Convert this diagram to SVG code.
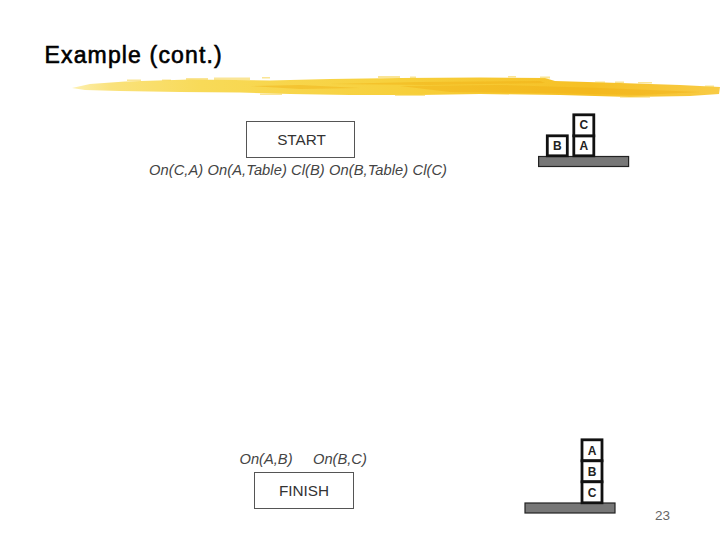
<svg xmlns="http://www.w3.org/2000/svg" width="720" height="540" viewBox="0 0 720 540">
<style>
.t{font-family:"Liberation Sans",Arial,sans-serif}
.box{fill:#fff;stroke:#555;stroke-width:1}
.lbl{font-size:15.300px;fill:#333;text-anchor:middle}
.cond{font-size:14.700px;fill:#444;font-style:italic}
.blk{fill:#fff;stroke:#111;stroke-width:2.800}
.bt{font-size:12px;font-weight:bold;fill:#222;text-anchor:middle}
.tbl{fill:#777;stroke:#222;stroke-width:1.200}
.fl{fill:#f7d551;opacity:.6}
.st{fill:#efb015;opacity:.45}
</style>
<defs>
<linearGradient id="br" x1="0" x2="1" y1="0" y2="0">
<stop offset="0" stop-color="#fdf0b0"/>
<stop offset=".06" stop-color="#fae27c"/>
<stop offset=".2" stop-color="#f8da58"/>
<stop offset=".5" stop-color="#f7d03c"/>
<stop offset=".8" stop-color="#f6c025"/>
<stop offset="1" stop-color="#f8cb45"/>
</linearGradient>
</defs>
<rect width="720" height="540" fill="#fff"/>
<g id="title"><text class="t" x="44.500" y="62.500" font-size="23" letter-spacing="1.150" fill="#000" stroke="#000" stroke-width=".6">Example (cont.)</text></g>
<g id="brush">
<path fill="url(#br)" d="M72 88 L90 84 L125 81.500 L190 79.500 L270 80.500 L330 79 L400 78 L480 77.500 L545 78 L555 81 L620 83 L680 85 L720 87 L719 94 L690 96 L630 97 L560 95 L480 94 L420 95 L350 95 L290 94 L240 92.500 L180 92 L120 91 L85 90 Z"/>
<path class="st" d="M400 86 L500 85 L600 88 L700 92 L640 95 L540 93 L450 92 Z"/>
<path class="st" d="M330 84 L420 82 L540 81 L545 83 L430 85 Z"/>
<path class="st" d="M250 86 L300 85 L360 88 L300 89 Z"/>
<g class="fl">
<rect x="127" y="79.500" width="14" height="1.500"/><rect x="162" y="79.500" width="9" height="1.500"/><rect x="186" y="78" width="22" height="2"/><rect x="214" y="77.500" width="36" height="2.500"/><rect x="262" y="77" width="8" height="1.500"/>
<rect x="378" y="76" width="22" height="2"/><rect x="410" y="76.500" width="6" height="1.500"/><rect x="508" y="76" width="8" height="1.500"/><rect x="540" y="76.500" width="10" height="2"/>
<rect x="595" y="81.500" width="10" height="1.500"/><rect x="615" y="81.500" width="9" height="1.500"/><rect x="638" y="82" width="14" height="1.500"/><rect x="705" y="85.500" width="9" height="1.500"/>
<rect x="260" y="93.500" width="22" height="1.500"/><rect x="395" y="94.500" width="30" height="1.500"/><rect x="620" y="96.500" width="30" height="1.200"/>
</g>
</g>
<g id="start"><rect class="box" x="246.500" y="121.500" width="108" height="36"/><text class="t lbl" x="301.500" y="144.500">START</text></g>
<g id="start-conditions"><text class="t cond" x="149" y="175" textLength="298">On(C,A) On(A,Table) Cl(B) On(B,Table) Cl(C)</text></g>
<g id="start-blocks">
<rect class="tbl" x="538.600" y="156.500" width="90" height="10"/>
<rect class="blk" x="547.300" y="135.800" width="20" height="20"/><text class="t bt" x="557.300" y="150">B</text>
<rect class="blk" x="573.800" y="135.800" width="20" height="20"/><text class="t bt" x="583.800" y="150">A</text>
<rect class="blk" x="573.800" y="114.800" width="20" height="21"/><text class="t bt" x="583.800" y="129">C</text>
</g>
<g id="finish-conditions"><text class="t cond" x="239.500" y="464">On(A,B)</text><text class="t cond" x="313" y="464">On(B,C)</text></g>
<g id="finish"><rect class="box" x="254.500" y="472.500" width="99" height="36"/><text class="t lbl" x="304" y="495.500">FINISH</text></g>
<g id="finish-blocks">
<rect class="tbl" x="525" y="503" width="90" height="10"/>
<rect class="blk" x="582" y="439.800" width="20" height="21"/><text class="t bt" x="592" y="454.500">A</text>
<rect class="blk" x="582" y="460.800" width="20" height="21"/><text class="t bt" x="592" y="475.500">B</text>
<rect class="blk" x="582" y="481.800" width="20" height="21"/><text class="t bt" x="592" y="496.500">C</text>
</g>
<g id="page"><text class="t" x="655" y="520" font-size="13.500" fill="#666">23</text></g>
<g id="connectors"/>
</svg>
